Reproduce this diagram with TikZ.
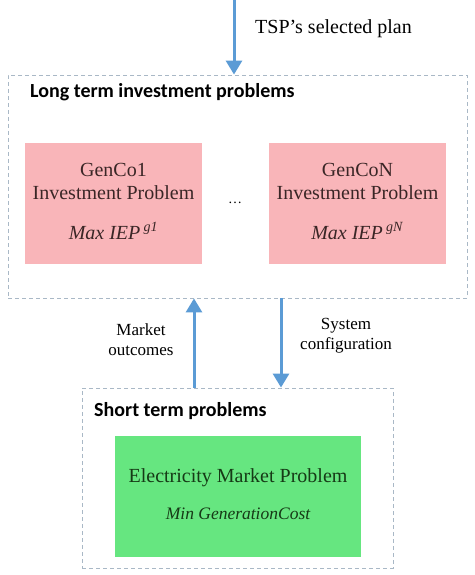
\documentclass[tikz,border=0pt]{standalone}
\usepackage{fontspec}
\setmainfont{Liberation Serif}
\newfontfamily\titlefont{Carlito}
\usetikzlibrary{arrows.meta}
\definecolor{arrowblue}{HTML}{5B9BD5}
\definecolor{dashgray}{HTML}{A9B8C6}
\definecolor{pinkfill}{HTML}{F9B5B9}
\definecolor{greenfill}{HTML}{66E680}
\definecolor{pinktext}{HTML}{3A2626}
\definecolor{greentext}{HTML}{163A16}
\tikzset{
  groupbox/.style={draw=dashgray, line width=0.9pt, dash pattern=on 4pt off 3pt, inner sep=0pt},
  genbox/.style={fill=pinkfill, minimum width=177pt, minimum height=121pt, inner sep=0pt},
  mktbox/.style={fill=greenfill, minimum width=246pt, minimum height=121pt, inner sep=0pt},
  flow/.style={draw=arrowblue, line width=3pt, -{Triangle[width=16pt,length=14pt]}},
  title/.style={font=\titlefont\bfseries\fontsize{20}{24}\selectfont, anchor=west, inner sep=0pt},
  txt/.style={font=\fontsize{20}{24}\selectfont, inner sep=0pt},
  small/.style={font=\fontsize{17}{20}\selectfont, inner sep=0pt, align=center}
}
\begin{document}
\begin{tikzpicture}[x=1pt,y=-1pt]
\useasboundingbox (0,0) rectangle (474,575);
% group boxes
\node[groupbox, minimum width=459pt, minimum height=223pt] (lt) at (237.5,186.5) {};
\node[groupbox, minimum width=311pt, minimum height=180pt] (st) at (237.5,478) {};
\node[title] (ltt) at (30,92) {Long term investment problems};
\node[title] (stt) at (94,411) {Short term problems};
% GenCo boxes
\node[genbox] (g1) at (113.5,203.5) {};
\node[genbox] (gN) at (357.5,203.5) {};
\node[txt, text=pinktext] (g1a) at (113.5,170) {GenCo1};
\node[txt, text=pinktext] (g1b) at (113.5,193) {Investment Problem};
\node[txt, text=pinktext] (g1c) at (113.5,231) {\textit{Max IEP}\,\textsuperscript{\textit{g1}}};
\node[txt, text=pinktext] (gNa) at (357.5,170) {GenCoN};
\node[txt, text=pinktext] (gNb) at (357.5,193) {Investment Problem};
\node[txt, text=pinktext] (gNc) at (357.5,231) {\textit{Max IEP}\,\textsuperscript{\textit{gN}}};
\node[font=\fontsize{14}{16}\selectfont, inner sep=0pt] (dots) at (235,203) {\dots};
% market box
\node[mktbox] (mk) at (238,496) {};
\node[txt, text=greentext] (mka) at (238,478) {Electricity Market Problem};
\node[font=\fontsize{17.5}{20}\selectfont\itshape, text=greentext, inner sep=0pt] (mkb) at (238,514) {Min GenerationCost};
% arrows
\coordinate (top) at (234,0);
\draw[flow] (top) -- (top |- lt.north);
\node[txt, anchor=west] (tsp) at (255,29) {TSP’s selected plan};
\coordinate (upx) at (194,0);
\coordinate (dnx) at (281,0);
\draw[flow] (upx |- st.north) -- (upx |- lt.south);
\draw[flow] (dnx |- lt.south) -- (dnx |- st.north);
\node[small] (mo) at (141,340) {Market\\outcomes};
\node[small] (sc) at (346,336) {System\\configuration};
\end{tikzpicture}
\end{document}
